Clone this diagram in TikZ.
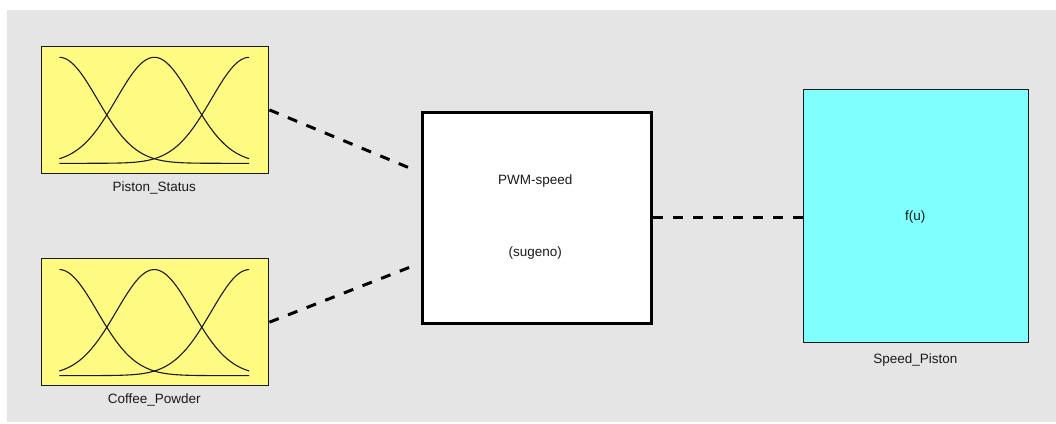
\documentclass[tikz,border=0pt]{standalone}
\usepackage{fontspec}
\setmainfont{Liberation Sans}
\usetikzlibrary{calc}
\definecolor{bggray}{HTML}{E5E5E5}
\definecolor{mfyellow}{HTML}{FFFB82}
\definecolor{outcyan}{HTML}{80FFFF}
\definecolor{ink}{HTML}{1A1A1A}
\begin{document}
\begin{tikzpicture}[x=1pt,y=-1pt,
  lbl/.style={font=\fontsize{13.5}{15}\selectfont, text=ink, inner sep=0pt},
  mfbox/.style={draw=ink, line width=1.4pt, fill=mfyellow, minimum width=227.3pt, minimum height=127pt, inner sep=0pt, anchor=north west},
  fisbox/.style={draw=black, line width=3pt, fill=white, minimum width=229.3pt, minimum height=211pt, inner sep=0pt, anchor=north west},
  outbox/.style={draw=ink, line width=1.4pt, fill=outcyan, minimum width=225.3pt, minimum height=253pt, inner sep=0pt, anchor=north west},
  conn/.style={draw=black, line width=3pt, dash pattern=on 10pt off 10pt},
  mfline/.style={draw=ink, line width=1.1pt},
  pics/mfs/.style={code={
    \foreach \mu in {0,0.5,1}
      \draw[mfline] plot[domain=0:1, samples=90, variable=\t, smooth]
        ({18.6+190*\t},{117.6-106*exp(-0.5*((\t-\mu)/0.1995)^2)});
  }}]
\useasboundingbox (0,0) rectangle (1056,423);
\fill[white] (0,0) rectangle (1056,423);
\fill[bggray] (7,10) rectangle (1056,422);

\node[mfbox] (piston) at (40.7,45.7) {};
\pic at (piston.north west) {mfs};
\node[lbl] (pistonlbl) at (154.3,188) {Piston\_Status};

\node[mfbox] (coffee) at (40.7,258) {};
\pic at (coffee.north west) {mfs};
\node[lbl] (coffeelbl) at (154.3,399.5) {Coffee\_Powder};

\node[fisbox] (pwm) at (420.7,110.7) {};
\node[lbl] (pwmname) at (535.3,181) {PWM-speed};
\node[lbl] (pwmtype) at (535.3,253) {(sugeno)};

\node[outbox] (speed) at (802.7,89) {};
\node[lbl] (fu) at (915.3,217) {f(u)};
\node[lbl] (speedlbl) at (915.3,360) {Speed\_Piston};

\coordinate (in1) at ($(pwm.west)+(-7,-48)$);
\coordinate (in2) at ($(pwm.west)+(-7,48)$);
\draw[conn] (piston.east) -- (in1);
\draw[conn] (coffee.east) -- (in2);
\draw[conn] (pwm.east) -- (pwm.east -| speed.west);
\end{tikzpicture}
\end{document}
